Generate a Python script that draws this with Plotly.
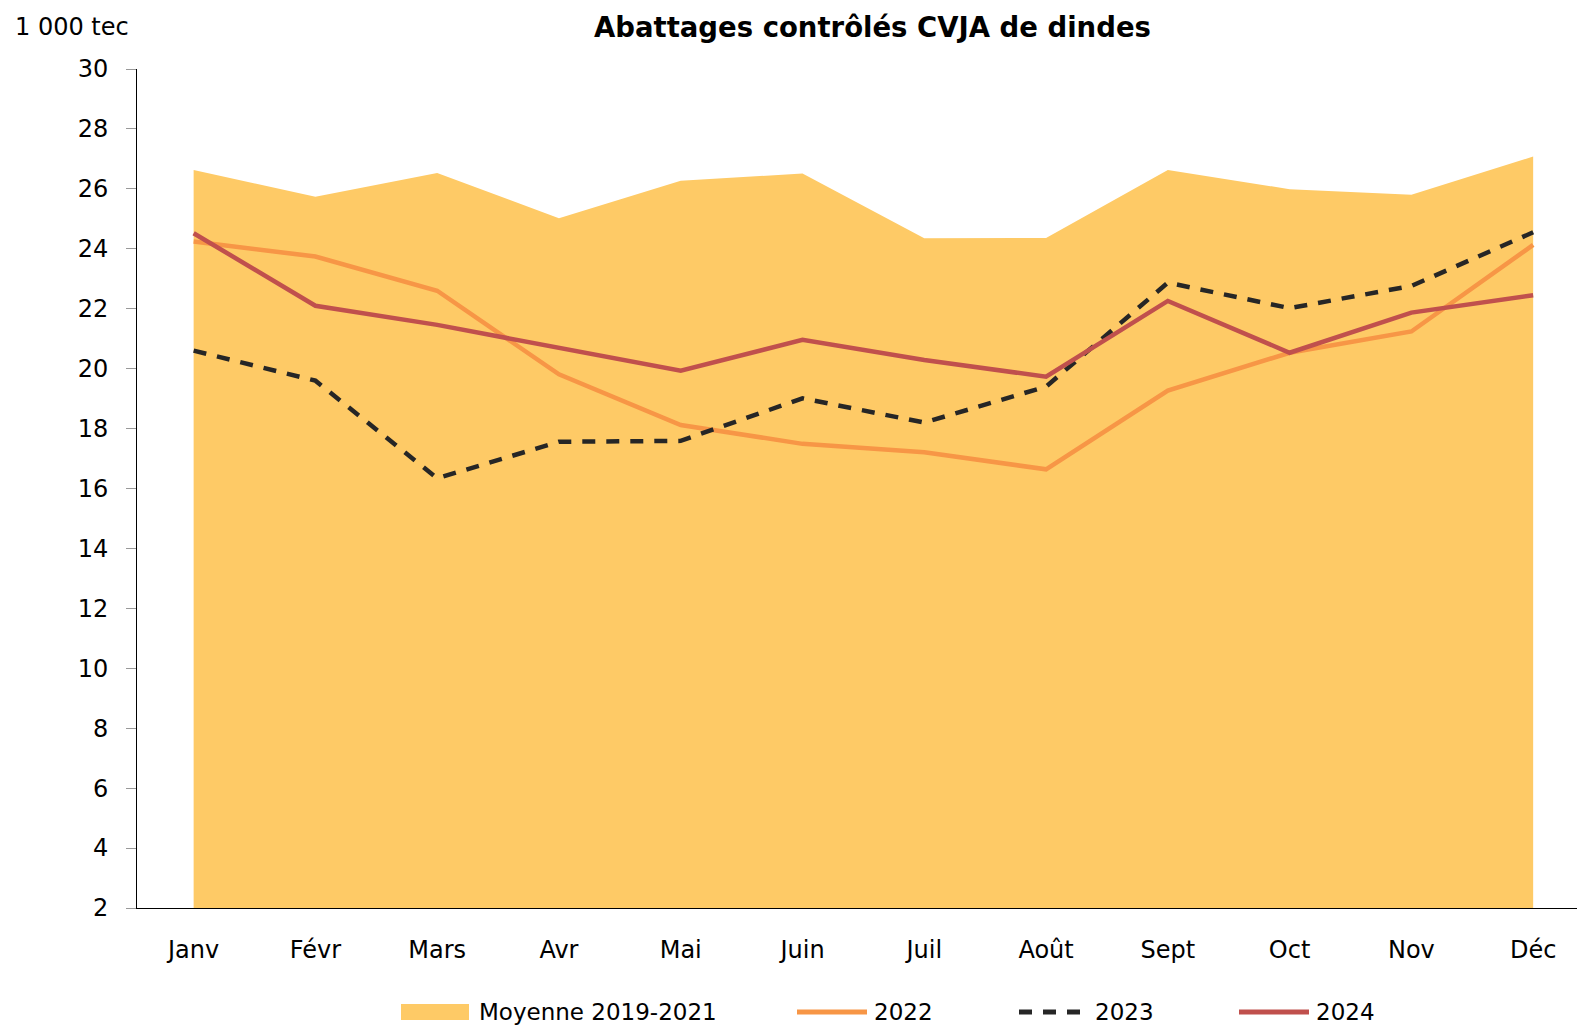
import plotly.graph_objects as go

months = ["Janv", "Févr", "Mars", "Avr", "Mai", "Juin", "Juil", "Août", "Sept", "Oct", "Nov", "Déc"]
moyenne_2019_2021 = [26.63, 25.74, 26.53, 25.02, 26.27, 26.51, 24.35, 24.36, 26.63, 25.99, 25.80, 27.08]
y2022 = [24.24, 23.74, 22.60, 19.81, 18.12, 17.49, 17.21, 16.64, 19.27, 20.53, 21.24, 24.13]
y2023 = [20.60, 19.60, 16.34, 17.56, 17.59, 19.01, 18.20, 19.40, 22.87, 22.02, 22.76, 24.55]
y2024 = [24.52, 22.10, 21.46, 20.68, 19.93, 20.96, 20.29, 19.73, 22.26, 20.53, 21.87, 22.45]
y_ticks = list(range(2, 31, 2))

C_AREA = "#FECA66"
C_2022 = "#F79646"
C_2023 = "#262626"
C_2024 = "#C0504D"
FONT = "DejaVu Sans"

fig = go.Figure()
fig.add_trace(go.Scatter(x=months, y=moyenne_2019_2021, mode="lines", fill="tozeroy",
                         fillcolor=C_AREA, line=dict(width=0, color=C_AREA),
                         name="Moyenne 2019-2021", showlegend=False))
fig.add_trace(go.Scatter(x=months, y=y2022, mode="lines", line=dict(color=C_2022, width=4.5),
                         name="2022", showlegend=False))
fig.add_trace(go.Scatter(x=months, y=y2023, mode="lines",
                         line=dict(color=C_2023, width=4.5, dash="13px,11px"),
                         name="2023", showlegend=False))
fig.add_trace(go.Scatter(x=months, y=y2024, mode="lines", line=dict(color=C_2024, width=4.5),
                         name="2024", showlegend=False))

W, H = 1577, 1027
L, R, T, B = 137, 0, 69, 119
pw, ph = W - L - R, H - T - B

def px(x):
    return (x - L) / pw

def py(y):
    return (H - B - y) / ph

shapes = []
annotations = []
legend_items = [
    ("Moyenne 2019-2021", "rect", C_AREA, None, 401, 469, 477),
    ("2022", "line", C_2022, None, 797, 867, 872),
    ("2023", "line", C_2023, "dash", 1019, 1088, 1093),
    ("2024", "line", C_2024, None, 1239, 1309, 1314),
]
ly = 1012
for label, kind, color, dash, x0, x1, tx in legend_items:
    if kind == "rect":
        shapes.append(dict(type="rect", xref="paper", yref="paper",
                           x0=px(x0), x1=px(x1), y0=py(ly + 8), y1=py(ly - 8),
                           fillcolor=color, line=dict(width=0)))
    else:
        shapes.append(dict(type="line", xref="paper", yref="paper",
                           x0=px(x0), x1=px(x1), y0=py(ly), y1=py(ly),
                           line=dict(color=color, width=5, dash="13px,11px" if dash else "solid")))
    annotations.append(dict(text=label, xref="paper", yref="paper", x=px(tx), y=py(ly),
                            xanchor="left", yanchor="middle", showarrow=False,
                            font=dict(family=FONT, size=23, color="#000000")))

annotations.append(dict(text="1 000 tec", xref="paper", yref="paper", x=px(13), y=py(27),
                        xanchor="left", yanchor="middle", showarrow=False,
                        font=dict(family=FONT, size=24, color="#000000")))
annotations.append(dict(text="<b>Abattages contrôlés CVJA de dindes</b>", xref="paper", yref="paper",
                        x=px(872), y=py(27), xanchor="center", yanchor="middle", showarrow=False,
                        font=dict(family=FONT, size=27.5, color="#000000")))

fig.update_layout(
    width=W, height=H,
    margin=dict(l=L, r=R, t=T, b=B, pad=0),
    paper_bgcolor="white", plot_bgcolor="white",
    font=dict(family=FONT, size=24, color="#000000"),
    shapes=shapes, annotations=annotations,
    xaxis=dict(type="category", range=[-0.465, 11.36], showgrid=False, zeroline=False,
               showline=True, linecolor="#000000", linewidth=1, ticks="",
               ticklabelstandoff=20, tickfont=dict(family=FONT, size=24, color="#000000")),
    yaxis=dict(range=[2, 30], tickvals=y_ticks, showgrid=False, zeroline=False,
               showline=True, linecolor="#000000", linewidth=1,
               ticks="outside", ticklen=10, tickcolor="#999999", tickwidth=1,
               ticklabelstandoff=13, tickfont=dict(family=FONT, size=24, color="#000000")),
)

fig.write_html("out.html", config={"displayModeBar": False},
               post_script="document.body.style.margin='0';document.body.style.overflow='hidden';")
